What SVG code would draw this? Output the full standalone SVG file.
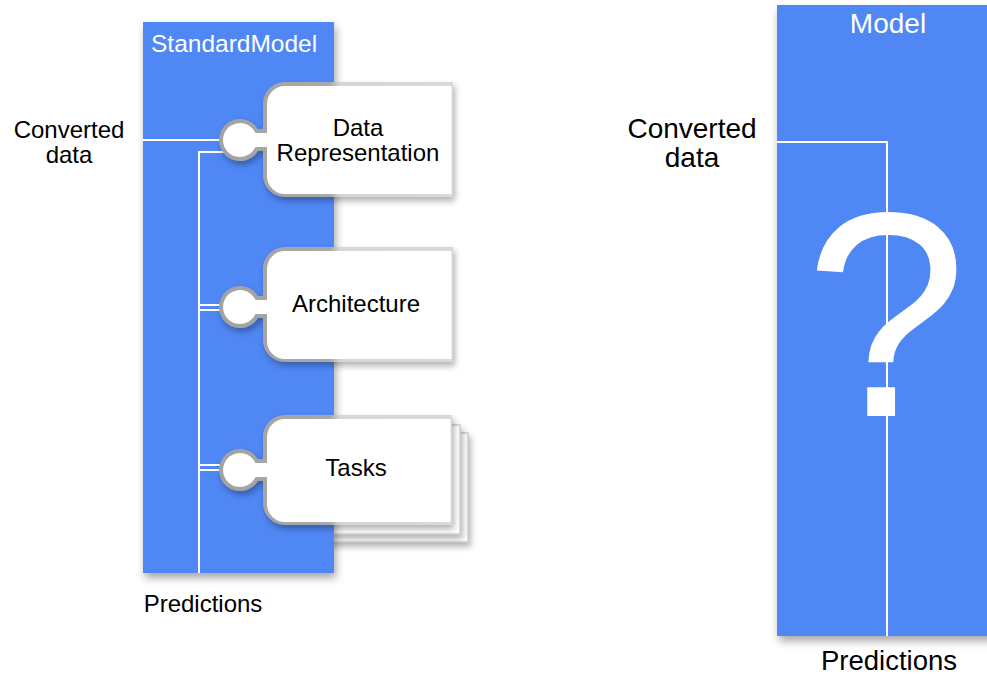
<svg xmlns="http://www.w3.org/2000/svg" width="987" height="676" viewBox="0 0 987 676">
  <defs>
    <filter id="panelShadow" x="-10%" y="-10%" width="130%" height="130%">
      <feDropShadow dx="2" dy="5" stdDeviation="4" flood-color="#000" flood-opacity="0.35"/>
    </filter>
    <filter id="nodeShadow" x="-15%" y="-15%" width="140%" height="140%">
      <feDropShadow dx="2" dy="4" stdDeviation="3" flood-color="#000" flood-opacity="0.3"/>
    </filter>
    <linearGradient id="rimGrad" gradientUnits="userSpaceOnUse" x1="215" y1="0" x2="455" y2="0">
      <stop offset="0" stop-color="#a2a2a2"/>
      <stop offset="0.48" stop-color="#a9a9a9"/>
      <stop offset="0.52" stop-color="#d6d6d6"/>
      <stop offset="1" stop-color="#d9d9d9"/>
    </linearGradient>
    <style>
      .panel { fill: #5087f5; filter: url(#panelShadow); }
      .rim { fill: url(#rimGrad); filter: url(#nodeShadow); }
      .face { fill: #ffffff; }
      .stack { fill: #ffffff; stroke: #cccccc; stroke-width: 1.5; filter: url(#nodeShadow); }
      .wire { fill: none; stroke: #ffffff; stroke-width: 2; }
      .label { font-family: "Liberation Sans", Arial, sans-serif; fill: #000000; text-anchor: middle; }
      .title { font-family: "Liberation Sans", Arial, sans-serif; fill: #ffffff; }
    </style>
  </defs>

  <rect width="987" height="676" fill="#ffffff"/>

  <!-- extra sheets behind the Tasks component (partly hidden by the panel) -->
  <g id="tasks-stack">
    <rect class="stack" x="290" y="433" width="178" height="109"/>
    <rect class="stack" x="282" y="425" width="178" height="109"/>
  </g>

  <!-- StandardModel container -->
  <g id="standard-model">
    <rect class="panel" x="143" y="22" width="191" height="551"/>
    <text class="title" x="151" y="52" font-size="24.5">StandardModel</text>
  </g>

  <!-- Model container -->
  <g id="model">
    <rect class="panel" x="777" y="5" width="230" height="631"/>
    <text class="title" x="888" y="33" font-size="28" text-anchor="middle">Model</text>
  </g>

  <!-- connectors -->
  <g id="connectors">
    <path class="wire" d="M143,140 H224"/>
    <path class="wire" d="M224,152 H199 V573"/>
    <path class="wire" d="M199,305 H224 M199,310 H224"/>
    <path class="wire" d="M199,465 H224 M199,470 H224"/>
    <path class="wire" d="M777,142 H887 V636"/>
  </g>

  <!-- Data Representation component -->
  <g id="data-representation">
    <path class="rim" d="M285,82 H453 V197 H285 A22,22 0 0 1 263,175 V151 H257.9 A21,21 0 1 1 257.9,129 H263 V104 A22,22 0 0 1 285,82 Z"/>
    <path class="face" d="M285,86 H451.5 V194 H285 A18,18 0 0 1 267,176 V147 H255.5 A17,17 0 1 1 255.5,133 H267 V104 A18,18 0 0 1 285,86 Z"/>
    <text class="label" x="358" y="136" font-size="24">Data</text>
    <text class="label" x="358" y="161" font-size="24">Representation</text>
  </g>

  <!-- Architecture component -->
  <g id="architecture">
    <path class="rim" d="M285,247 H453 V362 H285 A22,22 0 0 1 263,340 V318 H257.9 A21,21 0 1 1 257.9,296 H263 V269 A22,22 0 0 1 285,247 Z"/>
    <path class="face" d="M285,251 H451.5 V359 H285 A18,18 0 0 1 267,341 V314 H255.5 A17,17 0 1 1 255.5,300 H267 V269 A18,18 0 0 1 285,251 Z"/>
    <text class="label" x="356" y="312" font-size="24">Architecture</text>
  </g>

  <!-- Tasks component -->
  <g id="tasks">
    <path class="rim" d="M285,415 H452 V525 H285 A22,22 0 0 1 263,503 V481 H257.9 A21,21 0 1 1 257.9,459 H263 V437 A22,22 0 0 1 285,415 Z"/>
    <path class="face" d="M285,419 H450.5 V522 H285 A18,18 0 0 1 267,504 V477 H255.5 A17,17 0 1 1 255.5,463 H267 V437 A18,18 0 0 1 285,419 Z"/>
    <text class="label" x="356" y="476" font-size="24">Tasks</text>
  </g>

  <!-- unknown model internals -->
  <g id="question">
    <text x="886" y="416" font-family="'Liberation Sans', Arial, sans-serif" font-size="292" fill="#ffffff" text-anchor="middle">?</text>
  </g>

  <!-- external labels -->
  <g id="labels">
    <text class="label" x="69" y="138" font-size="24">Converted</text>
    <text class="label" x="69" y="163" font-size="24">data</text>
    <text class="label" x="203" y="612" font-size="24">Predictions</text>
    <text class="label" x="692" y="138" font-size="28">Converted</text>
    <text class="label" x="692" y="167" font-size="28">data</text>
    <text class="label" x="889" y="670" font-size="27.5">Predictions</text>
  </g>
</svg>
